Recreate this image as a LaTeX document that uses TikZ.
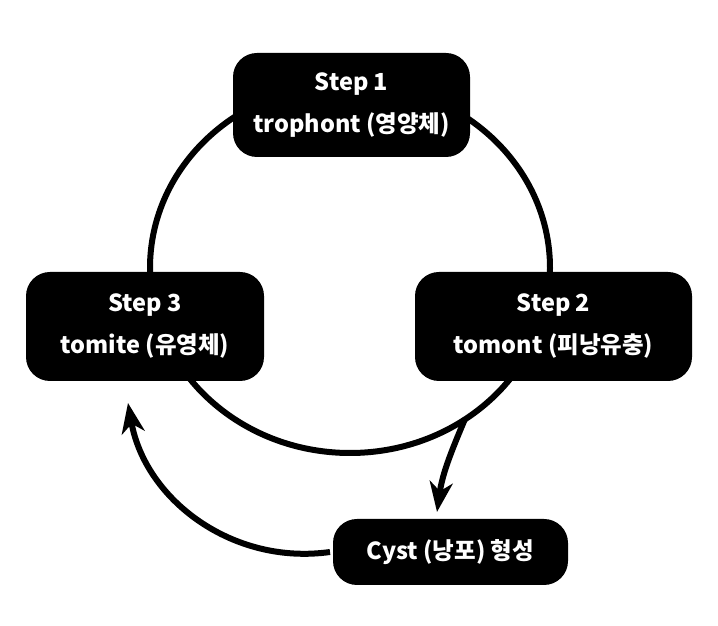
\documentclass[tikz,border=0pt]{standalone}
\usepackage{fontspec}
\setmainfont{Noto Sans CJK KR}
\usetikzlibrary{arrows.meta}

\begin{document}
\begin{tikzpicture}[x=1pt,y=1pt,line width=6pt,
    stage/.style={fill=black,text=white,rounded corners=24pt,align=center,
      inner sep=0pt,font=\fontsize{23.5}{42}\selectfont\bfseries},
    flow/.style={-{Stealth[length=30pt,width=23pt,inset=9pt]}}]
      \useasboundingbox (0,0) rectangle (718,626);

      % the cycle
      \draw (350,358) ellipse [x radius=200, y radius=185];

      \node[stage,minimum width=237pt,minimum height=104pt] (step1) at (351.5,521) {Step 1\\trophont (영양체)};
      \node[stage,minimum width=277pt,minimum height=109pt] (step2) at (553.5,299.5) {Step 2\\tomont (피낭유충)};
      \node[stage,minimum width=238pt,minimum height=109pt] (step3) at (145,299.5) {Step 3\\tomite (유영체)};
      \node[stage,minimum width=235pt,minimum height=66pt] (cyst) at (450.5,74) {Cyst (낭포) 형성};

      \coordinate (split) at (465,207);
      \coordinate (intocyst) at (437,114);
      \coordinate (intostep3) at (128,223);

      \draw[flow] (split) to[out=-113,in=82] (intocyst);
      \draw[flow] (cyst.west) to[out=188,in=-80] (intostep3);
\end{tikzpicture}
\end{document}
